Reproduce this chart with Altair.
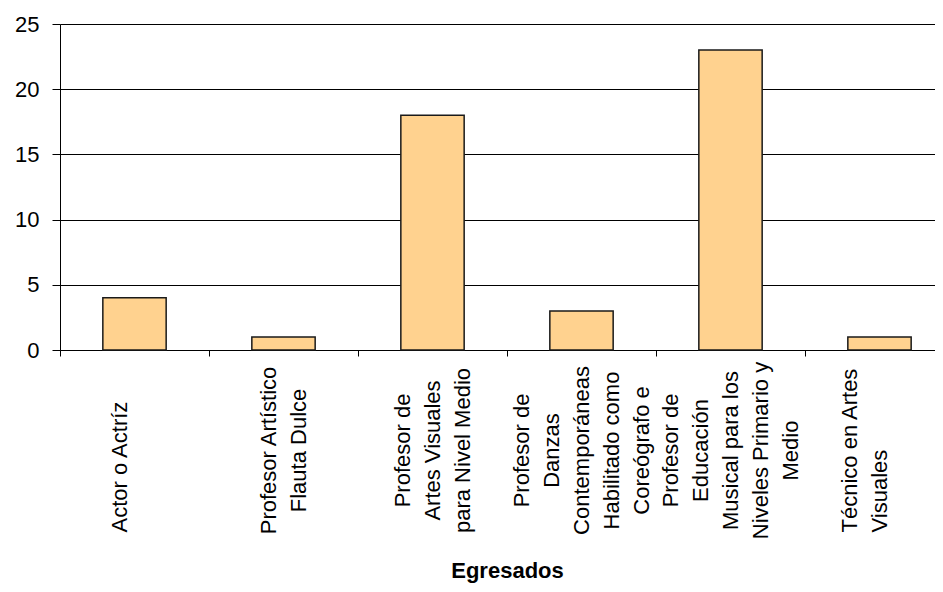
import altair as alt
import pandas as pd

categorias = [
    "Actor o Actríz",
    "Profesor Artístico Flauta Dulce",
    "Profesor de Artes Visuales para Nivel Medio",
    "Profesor de Danzas Contemporáneas Habilitado como Coreógrafo e",
    "Profesor de Educación Musical para los Niveles Primario y Medio",
    "Técnico en Artes Visuales",
]

# Tick labels as wrapped in the original (lines separated by \n;
# a trailing \n marks the labels that Excel laid out bottom-aligned)
etiquetas = [
    "Actor o Actríz\n",
    "Profesor Artístico\nFlauta Dulce",
    "Profesor de\nArtes Visuales\npara Nivel Medio",
    "Profesor de\nDanzas\nContemporáneas\nHabilitado como\nCoreógrafo e",
    "Profesor de\nEducación\nMusical para los\nNiveles Primario y\nMedio",
    "Técnico en Artes\nVisuales\n",
]

egresados = [4, 1, 18, 3, 23, 1]

y_ticks = [0, 5, 10, 15, 20, 25]

df = pd.DataFrame({"categoria": categorias, "etiqueta": etiquetas, "egresados": egresados})

FONT = "Liberation Sans, Arial, sans-serif"

LINES = "split(datum.value, '\\n')"
BOTTOM_ALIGNED = f"peek({LINES}) == ''"

chart = (
    alt.Chart(df)
    .mark_bar(
        fill="#FFD28F",
        stroke="#1a1a1a",
        strokeWidth=1.5,
        width=alt.RelativeBandSize(0.425),
    )
    .encode(
        x=alt.X(
            "etiqueta:N",
            sort=etiquetas,
            scale=alt.Scale(paddingInner=0, paddingOuter=0),
            axis=alt.Axis(
                title="Egresados",
                titleFontSize=22,
                titleFontWeight="bold",
                titleFont=FONT,
                titleColor="black",
                titleY=227,
                titleBaseline="alphabetic",
                labelAngle=270,
                labelAlign={"expr": f"{BOTTOM_ALIGNED} ? 'left' : 'center'"},
                labelBaseline="middle",
                labelPadding={"expr": f"{BOTTOM_ALIGNED} ? 176 : 94"},
                labelOffset={"expr": f"-(length({LINES}) - 1) * 15"},
                labelLineHeight=30,
                labelExpr="split(datum.label, '\\n')",
                labelOverlap=False,
                labelBound=False,
                labelLimit=600,
                tickBand="extent",
                tickSize=6,
                grid=False,
            ),
        ),
        y=alt.Y(
            "egresados:Q",
            scale=alt.Scale(domain=[0, 25], nice=False),
            axis=alt.Axis(
                values=y_ticks,
                title=None,
                grid=True,
                tickSize=8,
                labelPadding=13,
            ),
        ),
    )
    .properties(
        width=894,
        height=326,
        background="white",
        autosize=alt.AutoSizeParams(type="none"),
        padding={"left": 52, "top": 16, "right": -19, "bottom": 234},
    )
    .configure_view(stroke=None)
    .configure_axis(
        labelFont=FONT,
        labelFontSize=22,
        labelColor="black",
        domainColor="black",
        domainWidth=1,
        tickColor="black",
        tickWidth=1,
        gridColor="black",
        gridWidth=1,
        gridOpacity=1,
    )
)

chart.save("out.html", embed_options={"renderer": "svg", "actions": False})
